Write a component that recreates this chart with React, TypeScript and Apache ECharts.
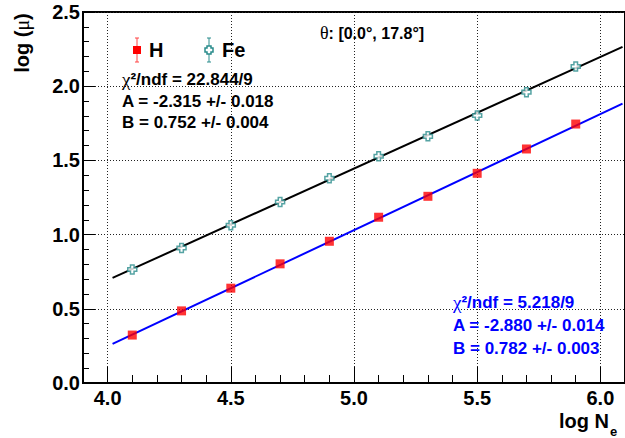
import React, { useEffect, useRef } from "react";
import * as echarts from "echarts";

const logNe = [4.1, 4.3, 4.5, 4.7, 4.9, 5.1, 5.3, 5.5, 5.7, 5.9];
const muH = [0.323, 0.486, 0.639, 0.803, 0.955, 1.117, 1.258, 1.413, 1.577, 1.745];
const muFe = [0.765, 0.91, 1.063, 1.22, 1.38, 1.528, 1.662, 1.803, 1.96, 2.133];

const fitRange = [4.02, 6.09];
const fitH = { A: -2.88, B: 0.782 };
const fitFe = { A: -2.315, B: 0.752 };

const chiFe = "²/ndf = 22.844/9";
const chiH = "²/ndf = 5.218/9";
const statsFe = ["A = -2.315 +/- 0.018", "B = 0.752 +/- 0.004"];
const statsH = ["A = -2.880 +/- 0.014", "B = 0.782 +/- 0.003"];

const FONT = "Liberation Sans";
const SERIF = "Liberation Serif";
const TEAL = "#2a8c8c";
const CROSS = "path://M3,0 L7,0 L7,3 L10,3 L10,7 L7,7 L7,10 L3,10 L3,7 L0,7 L0,3 L3,3 Z";

export default function App() {
  const ref = useRef<HTMLDivElement>(null);
  useEffect(() => {
    const chart = echarts.init(ref.current!, null, { renderer: "svg" });
    const fitLine = (p: { A: number; B: number }) => fitRange.map((x) => [x, p.A + p.B * x]);
    const statText = (chi: string, lines: string[], x: number, ys: number[], color: string) => [
      {
        type: "text",
        left: x,
        top: ys[0] - 11,
        style: {
          text: `{c|χ}{b|${chi}}`,
          fill: color,
          rich: {
            c: { fontFamily: SERIF, fontSize: 19, fill: color },
            b: { fontFamily: FONT, fontSize: 17, fontWeight: "bold", fill: color },
          },
        },
        z: 10,
      },
      ...lines.map((t, i) => ({
        type: "text",
        left: x,
        top: ys[i + 1] - 10,
        style: { text: t, fill: color, font: `bold 17px "${FONT}"` },
        z: 10,
      })),
    ];
    chart.setOption({
      animation: false,
      grid: { left: 83, top: 12, right: 0, bottom: 55, show: true, borderColor: "#000", borderWidth: 2 },
      xAxis: {
        type: "value",
        min: 3.9,
        max: 6.1,
        splitNumber: 5,
        axisLine: { lineStyle: { color: "#000", width: 2 } },
        axisTick: { inside: true, length: 16, lineStyle: { color: "#000", width: 1 } },
        minorTick: { show: true, splitNumber: 5, length: 8, lineStyle: { color: "#000", width: 1 } },
        splitLine: { show: true, lineStyle: { color: "#222", width: 1, type: [1, 2] } },
        axisLabel: {
          showMinLabel: false,
          showMaxLabel: false,
          margin: 5,
          color: "#000",
          fontFamily: FONT,
          fontWeight: "bold",
          fontSize: 20,
          formatter: (v: number) => v.toFixed(1),
        },
      },
      yAxis: {
        type: "value",
        min: 0,
        max: 2.5,
        interval: 0.5,
        axisLine: { show: true, lineStyle: { color: "#000", width: 2 } },
        axisTick: { show: true, inside: true, length: 12, lineStyle: { color: "#000", width: 1 } },
        minorTick: { show: true, splitNumber: 5, length: 6, lineStyle: { color: "#000", width: 1 } },
        splitLine: { show: true, lineStyle: { color: "#222", width: 1, type: [1, 2] } },
        axisLabel: {
          margin: 3,
          color: "#000",
          fontFamily: FONT,
          fontWeight: "bold",
          fontSize: 20,
          formatter: (v: number) => v.toFixed(1),
        },
      },
      series: [
        {
          type: "line",
          data: fitLine(fitFe),
          showSymbol: false,
          lineStyle: { color: "#000", width: 2 },
          z: 2,
        },
        {
          type: "line",
          data: fitLine(fitH),
          showSymbol: false,
          lineStyle: { color: "#0000ff", width: 2 },
          z: 2,
        },
        {
          name: "Fe",
          type: "scatter",
          data: logNe.map((x, i) => [x, muFe[i]]),
          symbol: CROSS,
          symbolSize: 9,
          itemStyle: { color: "#fff", borderColor: TEAL, borderWidth: 1.5 },
          z: 5,
        },
        {
          name: "H",
          type: "scatter",
          data: logNe.map((x, i) => [x, muH[i]]),
          symbol: "rect",
          symbolSize: 9,
          itemStyle: { color: "#ff0000" },
          z: 5,
        },
      ],
      graphic: [
        // legend H
        { type: "line", shape: { x1: 137, y1: 38, x2: 137, y2: 62 }, style: { stroke: "#ff4444", lineWidth: 1 }, z: 10 },
        { type: "line", shape: { x1: 135, y1: 38, x2: 139, y2: 38 }, style: { stroke: "#ff4444", lineWidth: 1 }, z: 10 },
        { type: "line", shape: { x1: 135, y1: 62, x2: 139, y2: 62 }, style: { stroke: "#ff4444", lineWidth: 1 }, z: 10 },
        { type: "rect", shape: { x: 133, y: 46, width: 8, height: 8 }, style: { fill: "#ff0000" }, z: 11 },
        { type: "text", left: 149, top: 40, style: { text: "H", fill: "#000", font: `bold 20px "${FONT}"` }, z: 10 },
        // legend Fe
        { type: "line", shape: { x1: 209, y1: 38, x2: 209, y2: 62 }, style: { stroke: TEAL, lineWidth: 1 }, z: 10 },
        { type: "line", shape: { x1: 207, y1: 38, x2: 211, y2: 38 }, style: { stroke: TEAL, lineWidth: 1 }, z: 10 },
        { type: "line", shape: { x1: 207, y1: 62, x2: 211, y2: 62 }, style: { stroke: TEAL, lineWidth: 1 }, z: 10 },
        {
          type: "polygon",
          shape: {
            points: [
              [207, 46], [211, 46], [211, 48], [213, 48], [213, 52], [211, 52],
              [211, 54], [207, 54], [207, 52], [205, 52], [205, 48], [207, 48],
            ],
          },
          style: { fill: "#fff", stroke: TEAL, lineWidth: 1.5 },
          z: 11,
        },
        { type: "text", left: 222, top: 40, style: { text: "Fe", fill: "#000", font: `bold 20px "${FONT}"` }, z: 10 },
        // theta text
        {
          type: "text",
          left: 320,
          top: 24,
          style: {
            text: "{t|θ}{b|: [0.0°, 17.8°]}",
            fill: "#000",
            rich: {
              t: { fontFamily: SERIF, fontSize: 18, fill: "#000" },
              b: { fontFamily: FONT, fontSize: 16, fontWeight: "bold", fill: "#000" },
            },
          },
          z: 10,
        },
        ...statText(chiFe, statsFe, 122, [81, 102.5, 124], "#000"),
        ...statText(chiH, statsH, 453, [304, 327, 350], "#0000ff"),
        // axis titles
        {
          type: "text",
          x: 22,
          y: 43,
          rotation: Math.PI / 2,
          style: {
            text: "{a|log (}{m|μ}{a|)}",
            align: "center",
            verticalAlign: "middle",
            fill: "#000",
            rich: {
              a: { fontFamily: FONT, fontSize: 20, fontWeight: "bold", fill: "#000" },
              m: { fontFamily: SERIF, fontSize: 20, fill: "#000" },
            },
          },
          z: 10,
        },
        {
          type: "text",
          x: 609,
          y: 431,
          style: { text: "log N", fill: "#000", font: `bold 20px "${FONT}"`, align: "right", verticalAlign: "bottom" },
          z: 10,
        },
        {
          type: "text",
          x: 610,
          y: 438,
          style: { text: "e", fill: "#000", font: `bold 13px "${FONT}"`, align: "left", verticalAlign: "bottom" },
          z: 10,
        },
      ],
    });
    return () => chart.dispose();
  }, []);
  return <div ref={ref} style={{ position: "absolute", left: 0, top: 0, width: 625, height: 438 }} />;
}
